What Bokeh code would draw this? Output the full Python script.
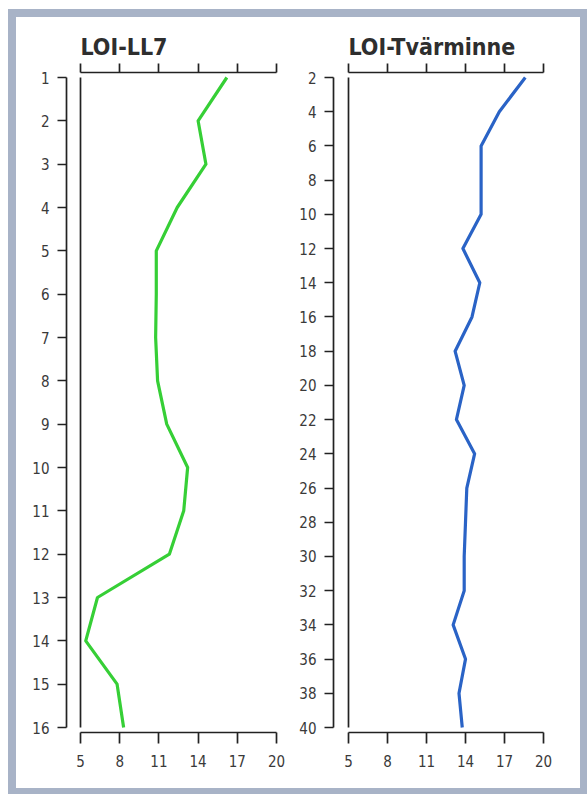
from bokeh.plotting import figure
from bokeh.models import LinearAxis, FixedTicker, Range1d
from bokeh.layouts import row
from bokeh.embed import file_html
from bokeh.resources import INLINE

# ---- data ----
ll7_depth = [1, 2, 3, 4, 5, 6, 7, 8, 9, 10, 11, 12, 13, 14, 15, 16]
ll7_loi = [16.2, 14.0, 14.6, 12.4, 10.8, 10.8, 10.75, 10.9, 11.6, 13.2, 12.9, 11.8, 6.3, 5.4, 7.8, 8.3]

tv_depth = [2, 4, 6, 8, 10, 12, 14, 16, 18, 20, 22, 24, 26, 28, 30, 32, 34, 36, 38, 40]
tv_loi = [18.6, 16.6, 15.2, 15.2, 15.2, 13.8, 15.1, 14.5, 13.2, 13.9, 13.3, 14.7, 14.1, 14.0, 13.9, 13.9, 13.05, 14.0, 13.5, 13.75]

x_ticks = [5, 8, 11, 14, 17, 20]
ll7_ticks = ll7_depth
tv_ticks = [2, 4, 6, 8, 10, 12, 14, 16, 18, 20, 22, 24, 26, 28, 30, 32, 34, 36, 38, 40]

FONT = "'DejaVu Sans Condensed', 'Liberation Sans Narrow', Roboto, sans-serif"
AX_COL = "#222222"
FIG_H = 771
TOP_PAD = 55      # canvas top -> top axis line
BOTTOM_PAD = 56   # bottom axis line -> canvas bottom
DATA_H = 650      # first -> last depth tick
EDGE = 5          # axis line -> first/last depth tick


def panel(title, depth, loi, yticks, color, width, border_left, gap_left, data_w):
    xs = (x_ticks[-1] - x_ticks[0]) / data_w
    ys = (yticks[-1] - yticks[0]) / DATA_H
    x_range = Range1d(x_ticks[0] - gap_left * xs, x_ticks[-1] + 2 * xs)
    y_range = Range1d(yticks[-1] + EDGE * ys, yticks[0] - EDGE * ys)
    min_right = width - border_left - gap_left - data_w - 2
    p = figure(width=width, height=FIG_H, x_range=x_range, y_range=y_range,
               output_backend="svg", toolbar_location=None,
               x_axis_type=None, y_axis_type=None,
               min_border_left=border_left, min_border_right=min_right,
               min_border_top=TOP_PAD, min_border_bottom=BOTTOM_PAD)
    p.grid.visible = False
    p.outline_line_color = None
    p.background_fill_color = "white"
    p.border_fill_color = "white"

    p.title.text = title
    p.title.text_font = FONT
    p.title.text_font_size = "23px"
    p.title.text_font_style = "bold"
    p.title.text_color = "#2e2e2e"
    p.title.align = "left"
    p.title.offset = gap_left
    p.title.standoff = 26

    top = LinearAxis(ticker=FixedTicker(ticks=x_ticks), bounds=(x_ticks[0], x_ticks[-1]))
    top.major_label_text_color = None
    top.major_label_text_font_size = "1px"
    top.major_label_standoff = 0
    bottom = LinearAxis(ticker=FixedTicker(ticks=x_ticks), bounds=(x_ticks[0], x_ticks[-1]))
    left = LinearAxis(ticker=FixedTicker(ticks=yticks), bounds=(yticks[0], yticks[-1]))
    for ax in (top, bottom, left):
        ax.axis_line_color = AX_COL
        ax.axis_line_width = 1.7
        ax.major_tick_line_color = AX_COL
        ax.major_tick_line_width = 1.7
        ax.major_tick_in = 0
        ax.minor_tick_line_color = None
        ax.major_label_text_font = FONT
    for ax in (bottom, left):
        ax.major_label_text_color = "#3a3a3a"
        ax.major_label_text_font_size = "15px"
    # top ticks drawn outward without taking panel room
    top.major_tick_out = 0
    top.major_tick_in = -9
    bottom.major_tick_out = 11
    bottom.major_label_standoff = 11
    left.major_tick_out = 9
    left.major_label_standoff = 8
    p.add_layout(top, "above")
    p.add_layout(bottom, "below")
    p.add_layout(left, "left")

    # inner frame line at the low end of the x scale
    p.segment(x0=[x_ticks[0]], y0=[yticks[0]], x1=[x_ticks[0]], y1=[yticks[-1]],
              line_color=AX_COL, line_width=1.7)
    p.line(x=loi, y=depth, line_color=color, line_width=3.2, line_join="round")
    return p


p1 = panel("LOI-LL7", ll7_depth, ll7_loi, ll7_ticks, "#36cf36",
           width=274, border_left=50, gap_left=14, data_w=196)
p2 = panel("LOI-Tvärminne", tv_depth, tv_loi, tv_ticks, "#2a63c6",
           width=290, border_left=43, gap_left=15, data_w=195)

layout = row(p1, p2, styles={
    "border-style": "solid",
    "border-color": "#a8b3c7",
    "border-width": "8px 7px 6px 8px",
    "margin-left": "8px",
    "margin-top": "9px",
    "background-color": "white",
})

open("out.html", "w").write(file_html(layout, INLINE))
